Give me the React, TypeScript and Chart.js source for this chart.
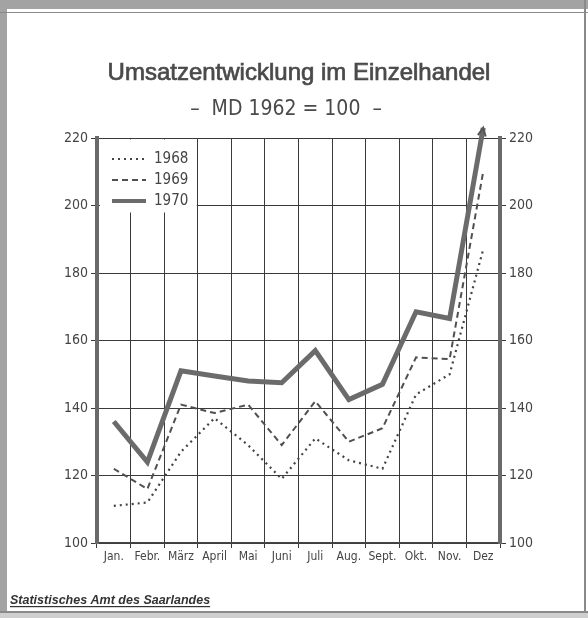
import React, { useEffect, useRef } from 'react';
import { Chart, registerables } from 'chart.js';

Chart.register(...registerables);

// ---- data ----
const months = ['Jan.', 'Febr.', 'März', 'April', 'Mai', 'Juni', 'Juli', 'Aug.', 'Sept.', 'Okt.', 'Nov.', 'Dez'];
const yearLabels = ['1968', '1969', '1970'];
const v1968 = [111, 112, 127, 137, 129, 119, 131, 124.5, 122, 144, 150, 187];
const v1969 = [122, 116, 141, 138.5, 141, 129, 142, 130, 134, 155, 154.5, 210];
const v1970 = [136, 124, 151, 149.5, 148, 147.5, 157, 142.5, 147, 168.5, 166.5, 223];
const yTicks = [100, 120, 140, 160, 180, 200, 220];
const titleText = 'Umsatzentwicklung im Einzelhandel';
const subtitleText = '–  MD 1962 = 100  –';
const footerText = 'Statistisches Amt des Saarlandes';

const NARROW = "'Liberation Sans Narrow', 'DejaVu Sans Condensed', 'Liberation Sans', sans-serif";
const SANS = "'Liberation Sans', Arial, sans-serif";
const INK = '#444444';

const decorPlugin = {
  id: 'decor',
  beforeDraw(chart: any) {
    const { ctx, width, height } = chart;
    ctx.save();
    ctx.fillStyle = '#ffffff';
    ctx.fillRect(0, 0, width, height);
    // scanned frame
    ctx.fillStyle = '#a3a3a3';
    ctx.fillRect(0, 0, width, 9);
    ctx.fillRect(0, 0, 7, height);
    ctx.fillStyle = '#8a8a8a';
    ctx.fillRect(0, 12, width, 1);
    ctx.fillRect(width - 4, 0, 2, height);
    ctx.fillRect(0, height - 7, width, 2);
    ctx.fillStyle = '#cfcfcf';
    ctx.fillRect(0, height - 5, width, 5);
    ctx.restore();
  },
  beforeDatasetsDraw(chart: any) {
    // legend inside plot, covering grid
    const { ctx, chartArea } = chart;
    const xs = chart.scales.x;
    const gx = (xs.getPixelForValue(2) + xs.getPixelForValue(3)) / 2;
    ctx.save();
    ctx.fillStyle = '#ffffff';
    ctx.fillRect(chartArea.left + 3, chartArea.top + 1.5, gx - chartArea.left - 4, 73);
    chart.data.datasets.forEach((ds: any, i: number) => {
      const y = chartArea.top + 21 + i * 21;
      ctx.beginPath();
      ctx.strokeStyle = ds.borderColor;
      ctx.lineWidth = i === 2 ? 4 : ds.borderWidth;
      ctx.setLineDash(ds.borderDash || []);
      ctx.moveTo(chartArea.left + 15, y);
      ctx.lineTo(chartArea.left + 49, y);
      ctx.stroke();
      ctx.setLineDash([]);
      ctx.fillStyle = INK;
      ctx.font = `15px ${NARROW}`;
      ctx.textBaseline = 'middle';
      ctx.textAlign = 'left';
      ctx.fillText(ds.label, chartArea.left + 57, y);
    });
    ctx.restore();
  },
  afterDatasetsDraw(chart: any) {
    // arrow head at the top of the December 1970 line
    const meta = chart.getDatasetMeta(2);
    const pts = meta.data;
    const a = pts[pts.length - 2];
    const b = pts[pts.length - 1];
    const ang = Math.atan2(b.y - a.y, b.x - a.x);
    const { ctx } = chart;
    ctx.save();
    ctx.strokeStyle = '#555';
    ctx.lineWidth = 2;
    ctx.beginPath();
    const L = 9;
    ctx.moveTo(b.x - L * Math.cos(ang - 0.45), b.y - L * Math.sin(ang - 0.45));
    ctx.lineTo(b.x, b.y);
    ctx.lineTo(b.x - L * Math.cos(ang + 0.45), b.y - L * Math.sin(ang + 0.45));
    ctx.stroke();
    ctx.restore();
  },
  afterDraw(chart: any) {
    const { ctx } = chart;
    ctx.save();
    ctx.fillStyle = '#4a4a4a';
    ctx.strokeStyle = '#4a4a4a';
    ctx.lineWidth = 0.7;
    ctx.textAlign = 'center';
    ctx.textBaseline = 'middle';
    ctx.font = `24px ${SANS}`;
    ctx.fillText(titleText, 299, 73);
    ctx.strokeText(titleText, 299, 73);
    ctx.font = `21px ${NARROW}`;
    ctx.fillText(subtitleText, 286, 110);
    // footer
    ctx.textAlign = 'left';
    ctx.textBaseline = 'alphabetic';
    ctx.font = `italic bold 12.5px ${SANS}`;
    ctx.fillStyle = '#333';
    ctx.fillText(footerText, 10, 604);
    const w = ctx.measureText(footerText).width;
    ctx.fillRect(10, 606, w, 1.2);
    ctx.restore();
  },
};

function yAxis(position: 'left' | 'right', width: number, drawGrid: boolean) {
  return {
    type: 'linear',
    position,
    min: 100,
    max: 220,
    afterBuildTicks: (s: any) => {
      s.ticks = yTicks.map((v) => ({ value: v }));
    },
    afterFit: (s: any) => {
      s.width = width;
    },
    grid: {
      drawOnChartArea: drawGrid,
      color: '#3a3a3a',
      lineWidth: 1,
      tickLength: 6,
    },
    border: { color: '#6a6a6a', width: 4 },
    ticks: {
      color: INK,
      font: { family: NARROW, size: 14 },
      padding: 3,
    },
  };
}

export default function App() {
  const ref = useRef<HTMLCanvasElement | null>(null);
  useEffect(() => {
    document.body.style.margin = '0';
    if (!ref.current) return;
    const chart = new Chart(ref.current, {
      type: 'line',
      data: {
        labels: months,
        datasets: [
          {
            label: yearLabels[0],
            data: v1968,
            borderColor: '#444444',
            borderWidth: 2.2,
            borderDash: [2, 4],
            pointRadius: 0,
            tension: 0,
            fill: false,
          },
          {
            label: yearLabels[1],
            data: v1969,
            borderColor: '#505050',
            borderWidth: 2,
            borderDash: [6, 4],
            pointRadius: 0,
            tension: 0,
            fill: false,
          },
          {
            label: yearLabels[2],
            data: v1970,
            borderColor: '#6b6b6b',
            borderWidth: 5,
            borderJoinStyle: 'miter',
            pointRadius: 0,
            tension: 0,
            fill: false,
            clip: false,
          },
        ],
      } as any,
      options: {
        responsive: false,
        animation: false,
        devicePixelRatio: 1,
        layout: { padding: { top: 138, bottom: 45, left: 0, right: 0 } },
        plugins: {
          legend: { display: false },
          title: { display: false },
          tooltip: { enabled: false },
        },
        scales: {
          x: {
            type: 'category',
            offset: true,
            afterFit: (s: any) => {
              s.height = 30;
            },
            grid: {
              offset: true,
              color: '#3a3a3a',
              lineWidth: 1,
              tickLength: 5,
            },
            border: { color: '#444', width: 1.5 },
            ticks: {
              color: INK,
              font: { family: NARROW, size: 12 },
              padding: 2,
              maxRotation: 0,
              autoSkip: false,
            },
          },
          y: yAxis('left', 97, true),
          y2: yAxis('right', 88, false),
        },
      } as any,
      plugins: [decorPlugin],
    });
    return () => chart.destroy();
  }, []);
  return (
    <div style={{ width: 588, height: 618 }}>
      <canvas ref={ref} width={588} height={618} style={{ display: 'block', width: 588, height: 618 }} />
    </div>
  );
}
